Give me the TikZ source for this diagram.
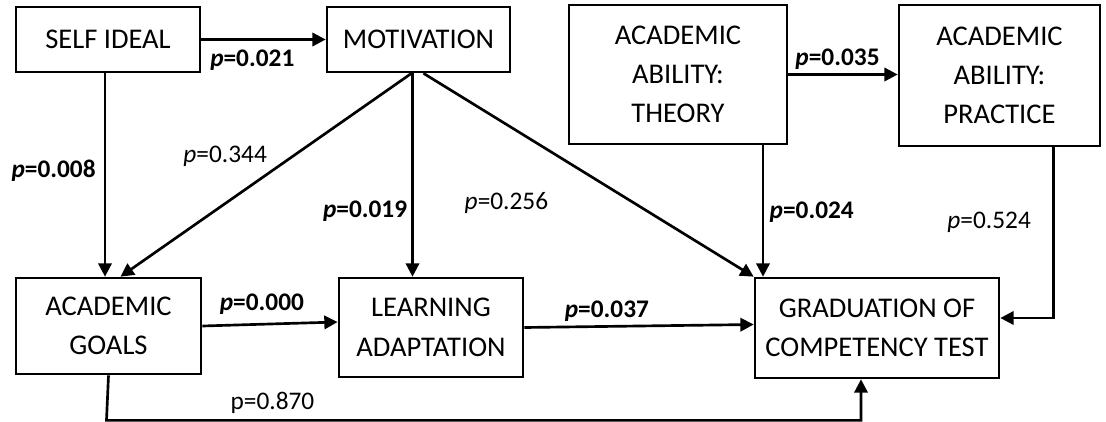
\documentclass[tikz,border=0pt]{standalone}
\usepackage{fontspec}
\setmainfont{Carlito}
\usepackage{tikz}
\usetikzlibrary{arrows.meta, positioning, calc}
\tikzstyle{box}=[draw=black, line width=2pt, align=center, inner sep=0pt,
                 font=\fontsize{21.4}{29.5}\selectfont]
\tikzstyle{arrow}=[-{Triangle[length=10pt,width=10pt]}, line width=2pt, color=black]
\tikzstyle{plab}=[font=\fontsize{19}{21}\selectfont, inner sep=0pt]

\begin{document}
\begin{tikzpicture}[x=0.75pt, y=-0.75pt]
  \useasboundingbox (0,0) rectangle (1106,421);

  % Boxes
  \node[box, minimum width=184*0.75pt, minimum height=65*0.75pt]  (self)     at (108,39.5)  {SELF IDEAL};
  \node[box, minimum width=183*0.75pt, minimum height=65*0.75pt]  (motiv)    at (418.5,39.5) {MOTIVATION};
  \node[box, minimum width=218*0.75pt, minimum height=139*0.75pt] (theory)   at (678,74.5)  {ACADEMIC\\ABILITY:\\THEORY};
  \node[box, minimum width=201*0.75pt, minimum height=141*0.75pt] (practice) at (999.5,75.5) {ACADEMIC\\ABILITY:\\PRACTICE};
  \node[box, minimum width=185*0.75pt, minimum height=96*0.75pt]  (goals)    at (108.5,326) {ACADEMIC\\GOALS};
  \node[box, minimum width=184*0.75pt, minimum height=99*0.75pt]  (learn)    at (431,327.5) {LEARNING\\ADAPTATION};
  \node[box, minimum width=244*0.75pt, minimum height=100*0.75pt] (grad)     at (877,328)   {GRADUATION OF\\COMPETENCY TEST};

  % Start and turn points
  \coordinate (sdown)  at ($(self.south)+(-3,0)$);
  \coordinate (mleft)  at ($(motiv.south)+(-7,0)$);
  \coordinate (mmid)   at ($(motiv.south)+(-6,0)$);
  \coordinate (mright) at ($(motiv.south)+(5,0)$);
  \coordinate (tdown)  at ($(theory.south)+(85,0)$);
  \coordinate (pdown)  at ($(practice.south)+(54,0)$);
  \coordinate (gturn)  at ($(goals.south)+(-2,45)$);

  % Paths
  \draw[arrow] (self.east) -- node[plab, pos=0.41, anchor=north, yshift=-7pt]{\textbf{\textit{p}=0.021}} (motiv.west);
  \draw[arrow] (sdown) -- node[plab, pos=0.48, anchor=east, xshift=-6pt]{\textbf{\textit{p}=0.008}} (sdown |- goals.north);
  \draw[arrow] (mleft) -- node[plab, pos=0.41, anchor=east, xshift=-18pt]{\textit{p}=0.344} ($(goals.north)+(12,0)$);
  \draw[arrow] (mmid) -- node[plab, pos=0.68, anchor=east, xshift=-3pt]{\textbf{\textit{p}=0.019}} (mmid |- learn.north);
  \draw[arrow] (mright) -- node[plab, pos=0.64, anchor=east, xshift=-64pt]{\textit{p}=0.256} (grad.north west);
  \draw[arrow] (theory.east) -- node[plab, pos=0.45, anchor=south, yshift=3pt]{\textbf{\textit{p}=0.035}} (theory.east -| practice.west);
  \draw[arrow] (tdown) -- node[plab, pos=0.51, anchor=west, xshift=4pt]{\textbf{\textit{p}=0.024}} (tdown |- grad.north);
  \draw[arrow] (pdown) |- node[plab, pos=0.22, anchor=east, xshift=-16pt]{\textit{p}=0.524} ($(grad.east)+(0,-10)$);
  \draw[arrow] (goals.east) -- node[plab, pos=0.44, anchor=south, yshift=6pt]{\textbf{\textit{p}=0.000}} ($(goals.east -| learn.west)+(0,-4)$);
  \draw[arrow] (learn.east) -- node[plab, pos=0.36, anchor=south, yshift=3pt]{\textbf{\textit{p}=0.037}} ($(learn.east -| grad.west)+(0,-3)$);
  \draw[arrow] (goals.south) -- (gturn) -| node[plab, pos=0.11, anchor=south, yshift=4pt]{p=0.870} ($(grad.south)+(-16,0)$);
\end{tikzpicture}
\end{document}
